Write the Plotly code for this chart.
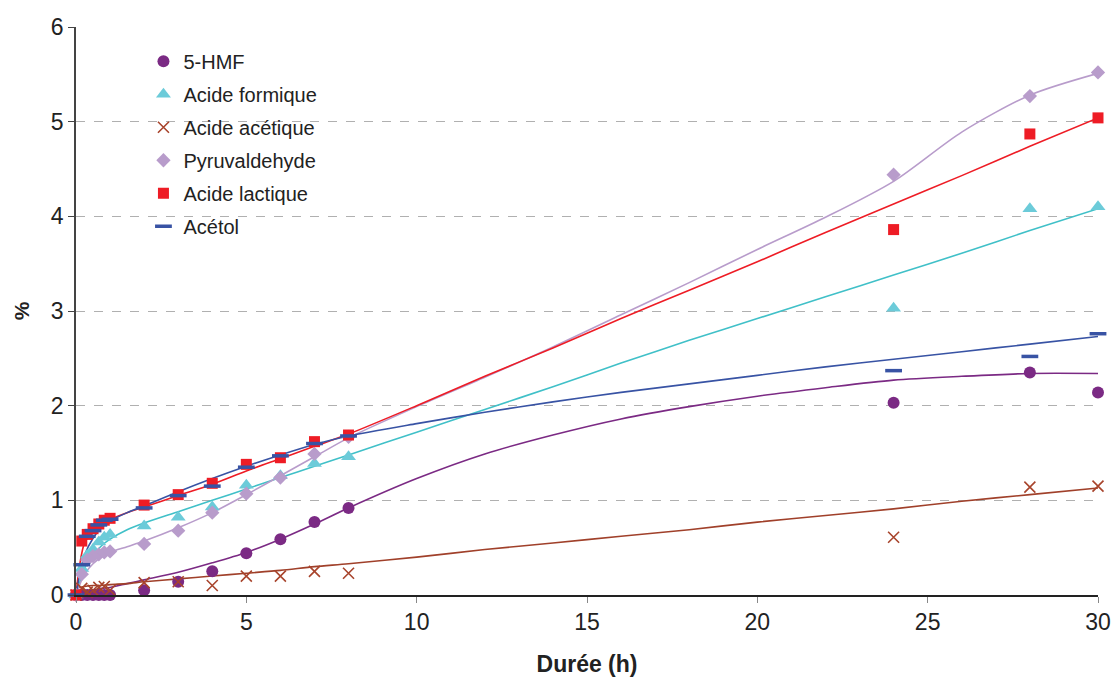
import plotly.graph_objects as go

# Measured time points (h)
t = [0, 0.17, 0.33, 0.5, 0.67, 0.83, 1, 2, 3, 4, 5, 6, 7, 8, 24, 28, 30]

hmf =        [0.0, 0.0, 0.0, 0.0, 0.0, 0.0, 0.0, 0.05, 0.14, 0.25, 0.44, 0.59, 0.77, 0.92, 2.03, 2.35, 2.14]
formique =   [0.0, 0.28, 0.42, 0.48, 0.56, 0.61, 0.64, 0.73, 0.82, 0.93, 1.16, 1.26, 1.39, 1.46, 3.03, 4.08, 4.10]
acetique =   [0.0, 0.07, 0.03, 0.05, 0.08, 0.09, 0.05, 0.13, 0.14, 0.10, 0.20, 0.20, 0.25, 0.23, 0.61, 1.14, 1.15]
pyruvald =   [0.0, 0.22, 0.37, 0.41, 0.43, 0.45, 0.46, 0.54, 0.68, 0.87, 1.07, 1.24, 1.49, 1.67, 4.44, 5.27, 5.52]
lactique =   [0.0, 0.57, 0.64, 0.70, 0.75, 0.79, 0.81, 0.95, 1.06, 1.18, 1.38, 1.45, 1.62, 1.69, 3.86, 4.87, 5.04]
acetol =     [0.0, 0.32, 0.62, 0.68, 0.74, 0.79, 0.80, 0.92, 1.05, 1.15, 1.35, 1.47, 1.60, 1.68, 2.37, 2.52, 2.76]

# Trend curves
t_fit = [0, 0.1, 0.25, 0.5, 0.75, 1, 1.5, 2, 3, 4, 5, 6, 7, 8, 10, 12, 14, 16, 18, 20, 22, 24, 26, 28, 30]
fit_hmf =   [0.02, 0.03, 0.04, 0.05, 0.07, 0.08, 0.12, 0.16, 0.24, 0.34, 0.45, 0.59, 0.75, 0.92, 1.23, 1.49, 1.69, 1.86, 1.99, 2.10, 2.19, 2.27, 2.31, 2.34, 2.34]
fit_form =  [0.0, 0.12, 0.28, 0.42, 0.52, 0.59, 0.69, 0.76, 0.88, 1.00, 1.12, 1.24, 1.36, 1.48, 1.72, 1.96, 2.20, 2.45, 2.69, 2.92, 3.15, 3.38, 3.61, 3.85, 4.08]
fit_acet =  [0.08, 0.08, 0.09, 0.10, 0.10, 0.11, 0.12, 0.14, 0.17, 0.20, 0.23, 0.26, 0.30, 0.33, 0.40, 0.48, 0.55, 0.62, 0.69, 0.77, 0.84, 0.91, 0.99, 1.06, 1.13]
fit_pyr =   [0.0, 0.10, 0.22, 0.33, 0.40, 0.45, 0.51, 0.57, 0.71, 0.87, 1.06, 1.26, 1.46, 1.66, 1.99, 2.30, 2.62, 2.96, 3.30, 3.65, 3.99, 4.37, 4.89, 5.28, 5.51]
fit_lact =  [0.0, 0.30, 0.55, 0.68, 0.75, 0.80, 0.87, 0.93, 1.05, 1.17, 1.31, 1.44, 1.57, 1.70, 2.00, 2.31, 2.61, 2.92, 3.22, 3.52, 3.83, 4.13, 4.43, 4.74, 5.04]
fit_acetol = [0.0, 0.20, 0.42, 0.60, 0.71, 0.78, 0.87, 0.94, 1.09, 1.23, 1.36, 1.48, 1.59, 1.68, 1.81, 1.93, 2.04, 2.14, 2.23, 2.32, 2.41, 2.49, 2.57, 2.65, 2.73]

series = [
    ("5-HMF", hmf, fit_hmf, "#7b2a84", "#7b2a84", dict(symbol="circle", size=12)),
    ("Acide formique", formique, fit_form, "#6ccbd9", "#40c0c8", dict(symbol="triangle-up", size=13)),
    ("Acide acétique", acetique, fit_acet, "#a8442c", "#a0402a", dict(symbol="x-thin", size=11)),
    ("Pyruvaldehyde", pyruvald, fit_pyr, "#b89ccb", "#b89ccb", dict(symbol="diamond", size=11)),
    ("Acide lactique", lactique, fit_lact, "#ee1c25", "#ee1c25", dict(symbol="square", size=11)),
    ("Acétol", acetol, fit_acetol, "#3853a4", "#3853a4", dict(symbol="line-ew", size=12)),
]

fig = go.Figure()

# fit curves first (below markers)
for name, y, yf, mc, lc, mk in series:
    fig.add_trace(go.Scatter(x=t_fit, y=yf, mode="lines", line=dict(color=lc, width=1.6, shape="spline", smoothing=0.8),
                             showlegend=False, hoverinfo="skip", cliponaxis=False))

for i, (name, y, yf, mc, lc, mk) in enumerate(series):
    marker = dict(symbol=mk["symbol"], size=mk["size"], color=mc)
    if mk["symbol"] == "x-thin":
        marker["line"] = dict(color=mc, width=1.6)
    elif mk["symbol"] == "line-ew":
        marker["line"] = dict(color=mc, width=3.5)
    else:
        marker["line"] = dict(width=0)
    fig.add_trace(go.Scatter(x=t, y=y, mode="markers", name=name, marker=marker,
                             cliponaxis=False, legendgroup=f"g{i}"))

fig.update_layout(
    width=1115, height=679,
    paper_bgcolor="white", plot_bgcolor="white",
    margin=dict(l=76, r=17, t=27, b=84),
    font=dict(family="Liberation Sans, Arial, sans-serif", color="#222222"),
    showlegend=True,
    legend=dict(x=0.066, y=0.974, xanchor="left", yanchor="top", bgcolor="rgba(0,0,0,0)",
                font=dict(size=20, color="#222222"), tracegroupgap=4, itemwidth=30),
    xaxis=dict(range=[0, 30], tickvals=[0, 5, 10, 15, 20, 25, 30], showgrid=False, zeroline=False,
               automargin=False,
               showline=True, linecolor="#222222", linewidth=1.5, ticks="outside", ticklen=6,
               tickcolor="#888888", tickfont=dict(size=23, color="#222222"),
               title=dict(text="<b>Durée (h)</b>", font=dict(size=23, color="#222222"), standoff=22)),
    yaxis=dict(range=[0, 6], tickvals=[0, 1, 2, 3, 4, 5, 6], showgrid=True, gridcolor="#b0b0b0",
               griddash="dash", gridwidth=1, zeroline=False, automargin=False,
               showline=True, linecolor="#444444", linewidth=1.5, ticks="outside", ticklen=6,
               tickcolor="#444444", tickfont=dict(size=23, color="#222222"),
               title=dict(text="<b>%</b>", font=dict(size=21, color="#222222"), standoff=16)),
)

fig.write_html("out.html", config={"displayModeBar": False},
               post_script="document.body.style.margin='0';document.body.style.padding='0';")
